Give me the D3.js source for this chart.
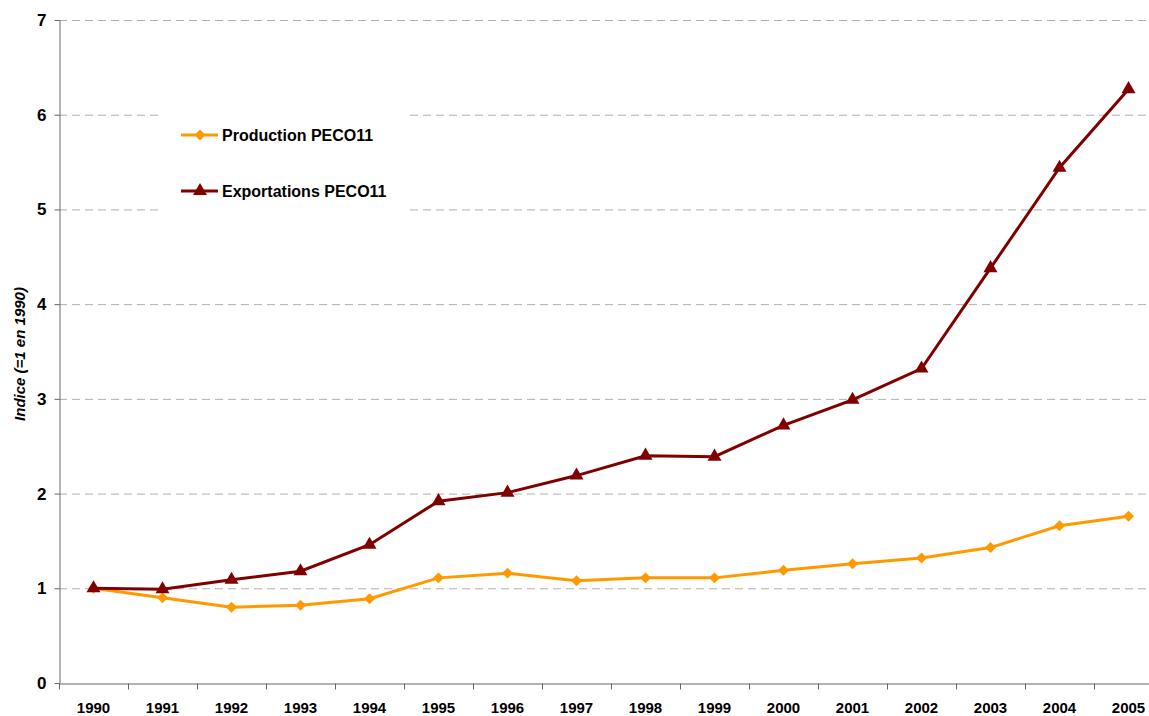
<!DOCTYPE html>
<html>
<head>
    <meta charset="utf-8">
    <title>Indice PECO11</title>
    <script src="https://d3js.org/d3.v7.min.js"></script>
    <style>
        body { margin: 0; background: #fff; }
        text { font-family: "Liberation Sans", Arial, sans-serif; font-weight: bold; }
    </style>
</head>
<body>
    <script>
        // Data
        const years = ["1990", "1991", "1992", "1993", "1994", "1995", "1996", "1997",
            "1998", "1999", "2000", "2001", "2002", "2003", "2004", "2005"];
        const production = [1.0, 0.90, 0.80, 0.82, 0.89, 1.11, 1.16, 1.08, 1.11, 1.11, 1.19, 1.26, 1.32, 1.43, 1.66, 1.76];
        const exportations = [1.0, 0.99, 1.09, 1.18, 1.46, 1.92, 2.01, 2.19, 2.40, 2.39, 2.72, 2.99, 3.32, 4.38, 5.44, 6.27];
        const yTicks = [0, 1, 2, 3, 4, 5, 6, 7];

        const W = 1149, H = 716;
        const plotLeft = 59, plotTop = 20, plotBottom = 683;
        const band = 69;

        const svg = d3.select("body").append("svg")
            .attr("width", W)
            .attr("height", H);

        const x = d3.scaleBand()
            .domain(years)
            .range([plotLeft, plotLeft + band * years.length]);

        const y = d3.scaleLinear()
            .domain([0, 7])
            .range([plotBottom, plotTop]);

        // Gridlines
        svg.append("g")
            .selectAll("line")
            .data(yTicks.filter(d => d > 0))
            .enter()
            .append("line")
            .attr("x1", plotLeft)
            .attr("x2", W)
            .attr("y1", d => y(d) + 0.5)
            .attr("y2", d => y(d) + 0.5)
            .style("stroke", "#b0b0b0")
            .style("stroke-dasharray", "8,5");

        // Y axis
        const yAxis = svg.append("g")
            .attr("transform", `translate(${plotLeft + 0.5},0)`)
            .call(d3.axisLeft(y).tickValues(yTicks).tickFormat(d3.format("d"))
                .tickSize(5).tickSizeOuter(0).tickPadding(8));
        yAxis.select(".domain").style("stroke", "#666");
        yAxis.selectAll(".tick line").style("stroke", "#666");
        yAxis.selectAll(".tick text").style("font-size", "17px").style("fill", "#000");

        // X axis with ticks between categories
        const xAxis = svg.append("g")
            .attr("transform", `translate(0,${plotBottom + 0.5})`)
            .call(d3.axisBottom(x).tickSize(0).tickPadding(19));
        xAxis.select(".domain").style("stroke", "#666");
        xAxis.selectAll(".tick text").style("font-size", "15px").style("fill", "#000");
        xAxis.selectAll(".sep")
            .data(years)
            .enter()
            .append("line")
            .attr("x1", d => x(d) + 0.5)
            .attr("x2", d => x(d) + 0.5)
            .attr("y1", 0)
            .attr("y2", 6)
            .style("stroke", "#666");

        // Y title
        svg.append("text")
            .attr("transform", `translate(25,354) rotate(-90)`)
            .attr("text-anchor", "middle")
            .style("font-size", "15px")
            .style("font-style", "italic")
            .text("Indice (=1 en 1990)");

        const line = d3.line()
            .x((d, i) => x(years[i]) + x.bandwidth() / 2)
            .y(d => y(d));

        const series = [
            { name: "Production PECO11", values: production, color: "#FF9900", symbol: d3.symbolSquare, size: 60, rot: 45 },
            { name: "Exportations PECO11", values: exportations, color: "#800000", symbol: d3.symbolTriangle, size: 85, rot: 0 }
        ];

        // Legend background and entries
        svg.append("rect")
            .attr("x", 160)
            .attr("y", 100)
            .attr("width", 250)
            .attr("height", 125)
            .style("fill", "#fff");

        series.forEach((s, k) => {
            const ly = 135 + k * 56;
            svg.append("line")
                .attr("x1", 181).attr("x2", 218)
                .attr("y1", ly).attr("y2", ly)
                .style("stroke", s.color)
                .style("stroke-width", 3);
            svg.append("path")
                .attr("d", d3.symbol().type(s.symbol).size(s.size))
                .attr("transform", `translate(200,${ly}) rotate(${s.rot})`)
                .style("fill", s.color);
            svg.append("text")
                .attr("x", 222)
                .attr("y", ly + 6)
                .style("font-size", "16px")
                .text(s.name);
        });

        // Lines and markers
        series.forEach(s => {
            svg.append("path")
                .datum(s.values)
                .attr("d", line)
                .style("fill", "none")
                .style("stroke", s.color)
                .style("stroke-width", 3);
            svg.append("g")
                .selectAll("path")
                .data(s.values)
                .enter()
                .append("path")
                .attr("d", d3.symbol().type(s.symbol).size(s.size))
                .attr("transform", (d, i) => `translate(${x(years[i]) + x.bandwidth() / 2},${y(d)}) rotate(${s.rot})`)
                .style("fill", s.color);
        });
    </script>
</body>
</html>
